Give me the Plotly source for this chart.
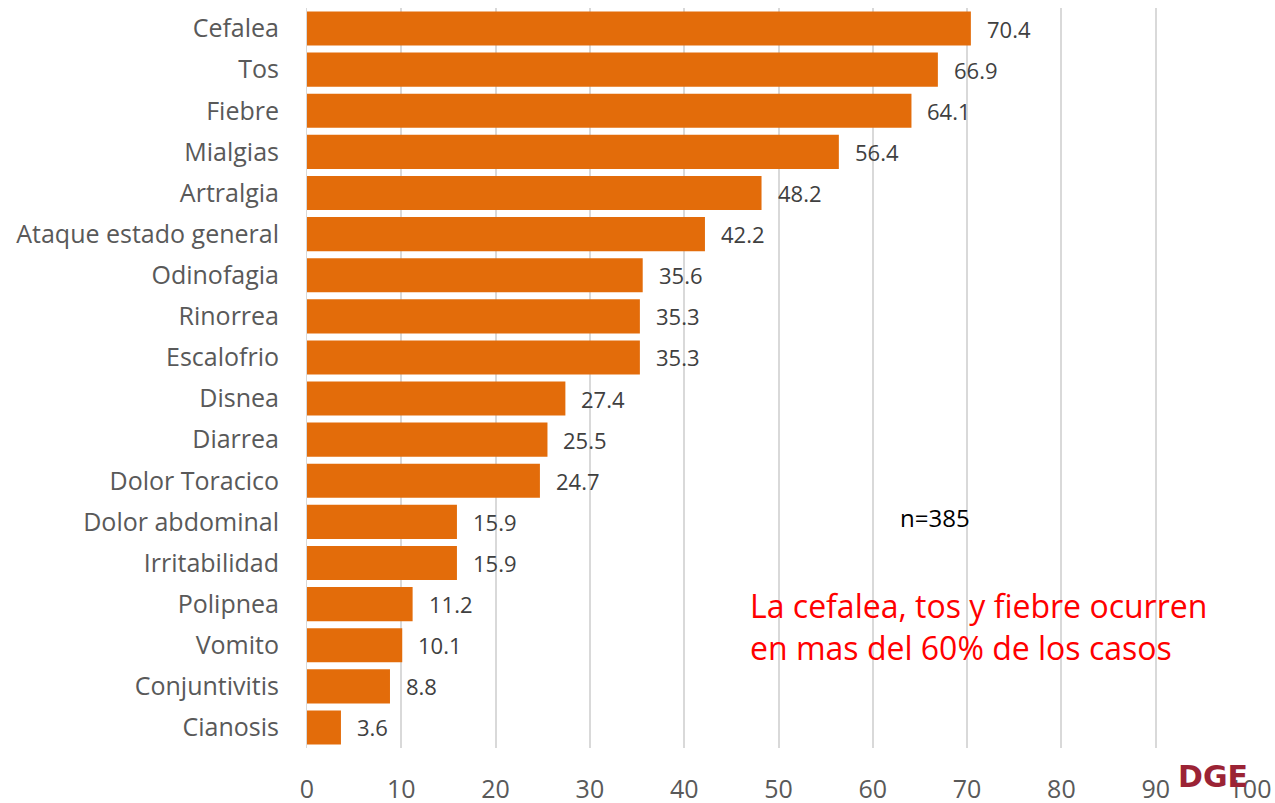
import plotly.graph_objects as go

categories = ["Cefalea", "Tos", "Fiebre", "Mialgias", "Artralgia", "Ataque estado general",
              "Odinofagia", "Rinorrea", "Escalofrio", "Disnea", "Diarrea", "Dolor Toracico",
              "Dolor abdominal", "Irritabilidad", "Polipnea", "Vomito", "Conjuntivitis", "Cianosis"]
values = [70.4, 66.9, 64.1, 56.4, 48.2, 42.2, 35.6, 35.3, 35.3, 27.4, 25.5, 24.7,
          15.9, 15.9, 11.2, 10.1, 8.8, 3.6]
x_ticks = [0, 10, 20, 30, 40, 50, 60, 70, 80, 90, 100]

FONT = "Open Sans"
fig = go.Figure()
fig.add_trace(go.Bar(
    y=categories, x=values, orientation="h",
    marker=dict(color="#E36C0A", line=dict(width=0)),
    hoverinfo="x+y",
))

annotations = []
for c, v in zip(categories, values):
    annotations.append(dict(x=v, y=c, xref="x", yref="y", text=f"{v:.1f}", showarrow=False,
                            xanchor="left", xshift=14, font=dict(family=FONT, size=22, color="#404040")))
annotations.append(dict(x=0.627, y=0.311, xref="paper", yref="paper", text="n=385", showarrow=False,
                        xanchor="left", yanchor="middle", font=dict(family=FONT, size=24, color="#000000")))
annotations.append(dict(x=0.468, y=0.164, xref="paper", yref="paper",
                        text="La cefalea, tos y fiebre ocurren<br>en mas del 60% de los casos",
                        showarrow=False, xanchor="left", yanchor="middle", align="left",
                        font=dict(family=FONT, size=32, color="#FF0000")))
annotations.append(dict(x=1.0, y=-0.012, xref="paper", yref="paper", text="<b>DGE</b>", showarrow=False,
                        xanchor="right", yanchor="top",
                        font=dict(family="DejaVu Sans", size=30, color="#9B2335")))
fig.update_layout(
    width=1275, height=803,
    margin=dict(l=307, r=25, t=8, b=55),
    paper_bgcolor="#FFFFFF", plot_bgcolor="#FFFFFF",
    bargap=0.17,
    showlegend=False,
    annotations=annotations,
    font=dict(family=FONT, color="#595959"),
    xaxis=dict(range=[0, 100], tickvals=x_ticks, showgrid=True, gridcolor="#D9D9D9", gridwidth=2,
               zeroline=False, showline=False, ticks="outside", ticklen=0, automargin=False,
               tickfont=dict(family=FONT, size=25, color="#595959"), ticklabelstandoff=19),
    yaxis=dict(categoryorder="array", categoryarray=categories[::-1], showgrid=False,
               showline=True, linecolor="#D9D9D9", linewidth=1, automargin=False,
               ticks="outside", ticklen=0, ticklabelstandoff=22,
               tickfont=dict(family=FONT, size=25, color="#595959")),
)
fig.write_html("out.html", config={"displayModeBar": False},
               post_script="document.body.style.margin='0';document.body.style.overflow='hidden';")
